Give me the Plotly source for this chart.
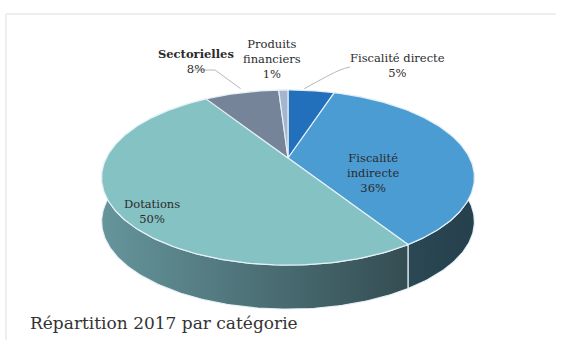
import numpy as np
import plotly.graph_objects as go

# Revenue breakdown 2017 by category (percent)
categories = ["Fiscalité directe", "Fiscalité indirecte", "Dotations", "Sectorielles", "Produits financiers"]
values = [5, 36, 50, 8, 1]
top_colors = ["#2270bc", "#4b9cd3", "#85c2c4", "#76849a", "#a3b5cf"]
side_colors = [
    ["#1a4f80", "#1a4f80"],
    ["#30505f", "#26404c"],
    ["#65959b", "#344d53"],
    ["#4d5866", "#4d5866"],
    ["#6f7f95", "#6f7f95"],
]

W, H = 561, 340

# Perspective projection of a unit disc lying flat (y axis points away from the viewer)
CX, CY = 288.0, 158.0
PA, PB, PD = 814.0, 372.8, 4.48
DEPTH = 44.0


def project(theta):
    x = np.sin(theta)
    y = np.cos(theta)
    return CX + PA * x / (PD + y), CY - PB * y / (PD + y)


fig = go.Figure()

fracs = np.array(values, dtype=float) / np.sum(values)
bounds = np.concatenate([[0.0], np.cumsum(fracs)]) * 2 * np.pi
arcs = []
for i in range(len(values)):
    n = max(3, int(np.degrees(bounds[i + 1] - bounds[i])) + 2)
    t = np.linspace(bounds[i], bounds[i + 1], n)
    arcs.append(project(t))

edge = "rgba(232,242,248,0.95)"

# cylinder walls
for i, (ax, ay) in enumerate(arcs):
    xs = np.concatenate([ax, ax[::-1], ax[:1]])
    ys = np.concatenate([ay, ay[::-1] + DEPTH, ay[:1]])
    fig.add_trace(go.Scatter(
        x=xs, y=ys, mode="lines", fill="toself",
        fillgradient=dict(type="horizontal",
                          colorscale=[[0, side_colors[i][0]], [1, side_colors[i][1]]]),
        line=dict(color=edge, width=1.2), hoverinfo="skip", showlegend=False))

# top faces
for i, (ax, ay) in enumerate(arcs):
    xs = np.concatenate([[CX], ax, [CX]])
    ys = np.concatenate([[CY], ay, [CY]])
    fig.add_trace(go.Scatter(
        x=xs, y=ys, mode="lines", fill="toself", fillcolor=top_colors[i],
        line=dict(color=edge, width=1.2), name=categories[i],
        hoverinfo="name", showlegend=False))

label_font = dict(family="DejaVu Serif", size=11.5, color="#2b2b2b")

# labels placed outside the small slices
outside = [
    dict(x=397, y=65, text=f"Fiscalité directe<br>{values[0]}%"),
    dict(x=196, y=61, text=f"<b>Sectorielles</b><br>{values[3]}%"),
    dict(x=272, y=59, text=f"Produits<br>financiers<br>{values[4]}%"),
]
for spec in outside:
    fig.add_annotation(x=spec["x"], y=spec["y"], text=spec["text"], showarrow=False,
                       font=label_font, align="center")

# leader lines from labels to their slices
lead = "#b8b8b8"
mid0 = project((bounds[0] + bounds[1]) / 2)
fig.add_trace(go.Scatter(x=[350, 340, mid0[0] - 7], y=[67, 70, mid0[1] - 2], mode="lines",
                         line=dict(color=lead, width=1, shape="spline"),
                         hoverinfo="skip", showlegend=False))
mid3 = project((bounds[3] + bounds[4]) / 2)
fig.add_trace(go.Scatter(x=[193, 215, mid3[0] - 1], y=[70, 70, mid3[1] - 4], mode="lines",
                         line=dict(color=lead, width=1), hoverinfo="skip", showlegend=False))

# labels placed inside the large slices
fig.add_annotation(x=373, y=173, text=f"Fiscalité<br>indirecte<br>{values[1]}%", showarrow=False,
                   font=label_font, align="center")
fig.add_annotation(x=152, y=211, text=f"Dotations<br>{values[2]}%", showarrow=False,
                   font=label_font, align="center")

# chart caption
fig.add_annotation(x=28, y=323, xanchor="left", yanchor="middle",
                   text="Répartition 2017 par catégorie", showarrow=False,
                   font=dict(family="DejaVu Serif", size=17, color="#333333"))

# thin frame
fig.add_shape(type="line", x0=6, y0=14, x1=556, y1=14, line=dict(color="#e8e8e8", width=1.5))
fig.add_shape(type="line", x0=6, y0=14, x1=6, y1=340, line=dict(color="#e8e8e8", width=1.5))

fig.update_layout(
    width=W, height=H, margin=dict(l=0, r=0, t=0, b=0),
    paper_bgcolor="white", plot_bgcolor="white",
    xaxis=dict(range=[0, W], visible=False, fixedrange=True),
    yaxis=dict(range=[H, 0], visible=False, fixedrange=True),
    showlegend=False,
)

fig.write_html("out.html", config={"displayModeBar": False})
